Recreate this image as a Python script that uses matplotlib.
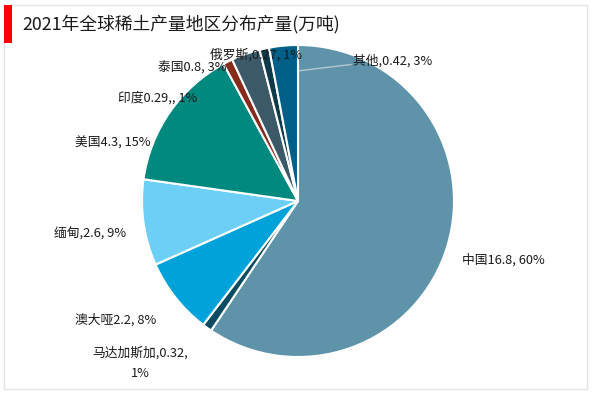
import matplotlib
matplotlib.use("Agg")
import matplotlib.pyplot as plt
from matplotlib.patches import Rectangle

plt.rcParams["font.family"] = ["Noto Sans CJK SC", "DejaVu Sans"]

# data (wedges drawn from the shares printed in the labels)
regions = ["中国", "马达加斯加", "澳大哑", "缅甸", "美国", "印度", "泰国", "俄罗斯", "其他"]
output = [16.8, 0.32, 2.2, 2.6, 4.3, 0.29, 0.8, 0.27, 0.42]
share = [60, 1, 8, 9, 15, 1, 3, 1, 3]
labels = ["中国16.8, 60%", "马达加斯加,0.32,\n1%", "澳大哑2.2, 8%", "缅甸,2.6, 9%",
          "美国4.3, 15%", "印度0.29,, 1%", "泰国0.8, 3%", "俄罗斯,0.27, 1%", "其他,0.42, 3%"]
colors = ["#5f93aa", "#0b4c63", "#00a2da", "#6dcff5", "#00897f",
          "#872b1b", "#3c5968", "#0f3a4a", "#005f87"]

# label anchors (pie radius units) and alignment
label_pos = [(1.05, -0.38, "left"), (-1.01, -1.04, "center"), (-1.17, -0.76, "center"),
             (-1.33, -0.21, "center"), (-1.19, 0.37, "center"), (-0.90, 0.66, "center"),
             (-0.68, 0.855, "center"), (-0.27, 0.935, "center"), (0.35, 0.90, "left")]

W, H = 600, 393
fig = plt.figure(figsize=(W / 100, H / 100), dpi=100)
fig.patch.set_facecolor("white")

# frame and title bar
fig.add_artist(Rectangle((4 / W, 1 - 389 / H), 583 / W, 384 / H, transform=fig.transFigure,
                         fill=False, edgecolor="#e3e3e3", linewidth=1))
fig.add_artist(Rectangle((4 / W, 1 - 43 / H), 8 / W, 38 / H, transform=fig.transFigure,
                         facecolor="#ff0000", edgecolor="none"))
fig.text(22 / W, 1 - 24 / H, "2021年全球稀土产量地区分布产量(万吨)", fontsize=12.8,
         va="center", ha="left", color="#1a1a1a")

cx, cy, r = 298, 201, 156
ax = fig.add_axes([(cx - r) / W, (H - cy - r) / H, 2 * r / W, 2 * r / H])
ax.pie(share, colors=colors, startangle=90, counterclock=False, radius=1,
       wedgeprops=dict(edgecolor="white", linewidth=1.5))
ax.set_xlim(-1, 1)
ax.set_ylim(-1, 1)
ax.set_aspect("equal")
ax.axis("off")

for text, (x, y, ha) in zip(labels, label_pos):
    ax.text(x, y, text, ha=ha, va="center", fontsize=9.2, color="#1a1a1a",
            linespacing=1.8, clip_on=False)

# leader line for the last label
ax.plot([0.01, 0.34], [0.835, 0.875], color="#b4c6cf", linewidth=1, clip_on=False)

fig.savefig("out.png", dpi=100)
